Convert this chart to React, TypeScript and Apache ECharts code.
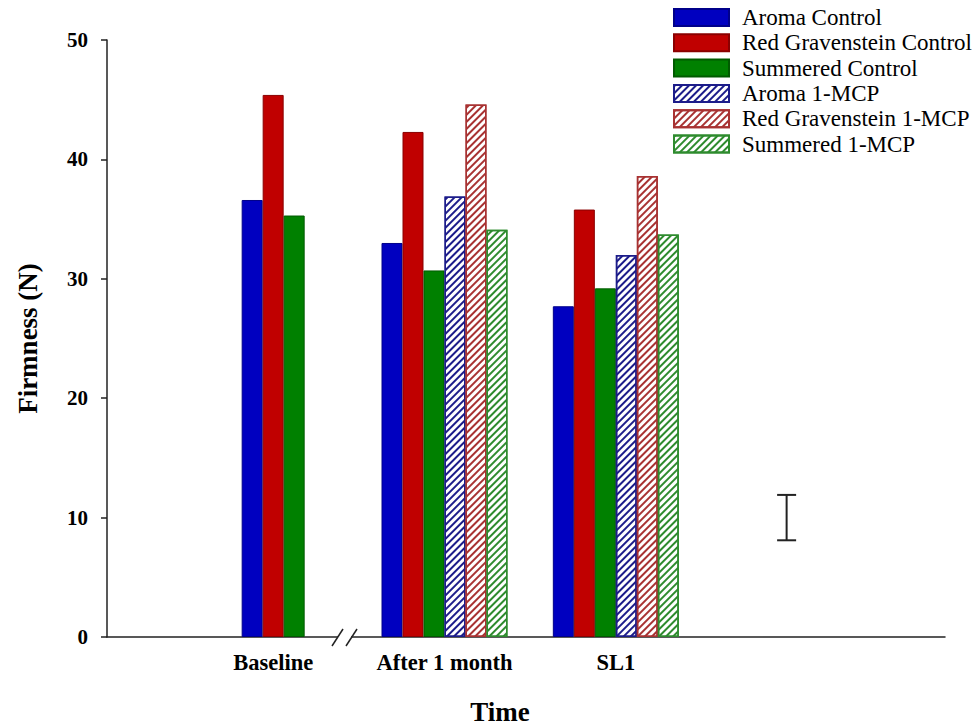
import React, { useEffect, useRef } from "react";
import * as echarts from "echarts";

const categories = ["Baseline", "After 1 month", "SL1"];
const aromaControl = [36.6, 33.0, 27.7];
const redControl = [45.4, 42.3, 35.8];
const summeredControl = [35.3, 30.7, 29.2];
const aroma1MCP: (number | null)[] = [null, 36.9, 32.0];
const red1MCP: (number | null)[] = [null, 44.6, 38.6];
const summered1MCP: (number | null)[] = [null, 34.1, 33.7];
const yTicks = [0, 10, 20, 30, 40, 50];
// LSD error bar: [x position on hidden 0-100 axis, low, high]
const lsdBar = [[81.1, 8.1, 11.9]];

const FONT = "'Liberation Serif', 'Times New Roman', serif";

const solid = (fill: string, border: string) => ({
  color: fill,
  borderColor: border,
  borderWidth: 1,
});
const hatched = (c: string) => ({
  color: "#ffffff",
  borderColor: c,
  borderWidth: 1.5,
  decal: {
    symbol: "rect",
    symbolSize: 1,
    dashArrayX: [[1, 0]],
    dashArrayY: [1.4, 2.4],
    rotation: -Math.PI / 4,
    color: c,
    backgroundColor: "#ffffff",
  },
});

export default function App() {
  const ref = useRef<HTMLDivElement>(null);
  useEffect(() => {
    if (!ref.current) return;
    const chart = echarts.init(ref.current, undefined, { renderer: "svg" });
    const baseOnly = (a: (number | null)[]) => a.map((v, i) => (i === 0 ? v : null));
    const later = (a: (number | null)[]) => a.map((v, i) => (i === 0 ? null : v));
    const barCommon = { barWidth: 21, barGap: "0%", xAxisIndex: 1, yAxisIndex: 1 };
    const names = [
      "Aroma Control",
      "Red Gravenstein Control",
      "Summered Control",
      "Aroma 1-MCP",
      "Red Gravenstein 1-MCP",
      "Summered 1-MCP",
    ];
    const styles = [
      solid("#0000c0", "#00008a"),
      solid("#c00000", "#8a0000"),
      solid("#008000", "#005a00"),
      hatched("#1c1c8a"),
      hatched("#a83232"),
      hatched("#2e8b2e"),
    ];
    const option: any = {
      animation: false,
      backgroundColor: "#ffffff",
      textStyle: { fontFamily: FONT },
      legend: {
        data: names,
        orient: "vertical",
        left: 673,
        top: 6,
        padding: 0,
        itemWidth: 55,
        itemHeight: 17,
        itemGap: 2.3,
        icon: "rect",
        textStyle: { fontFamily: FONT, fontSize: 23, color: "#000", padding: [0, 0, 0, 8] },
        selectedMode: false,
      },
      grid: [
        { left: 107, right: 35, top: 40, bottom: 90 },
        { left: 187.5, right: 278.5, top: 40, bottom: 90 },
      ],
      xAxis: [
        {
          type: "value",
          gridIndex: 0,
          min: 0,
          max: 100,
          axisLine: { show: true, lineStyle: { color: "#222", width: 1.5 } },
          axisTick: { show: false },
          axisLabel: { show: false },
          splitLine: { show: false },
        },
        {
          type: "category",
          gridIndex: 1,
          data: categories,
          axisLine: { show: false },
          axisTick: { show: false },
          axisLabel: {
            interval: 0,
            hideOverlap: false,
            fontFamily: FONT,
            fontSize: 22.5,
            fontWeight: "bold",
            color: "#000",
            margin: 14,
          },
        },
        {
          type: "category",
          gridIndex: 1,
          data: categories,
          show: false,
        },
      ],
      yAxis: [
        {
          type: "value",
          gridIndex: 0,
          min: 0,
          max: 50,
          interval: 10,
          name: "Firmness (N)",
          nameLocation: "middle",
          nameGap: 66,
          nameTextStyle: { fontFamily: FONT, fontSize: 27, fontWeight: "bold", color: "#000" },
          axisLine: { show: true, lineStyle: { color: "#222", width: 1.5 } },
          axisTick: { show: true, inside: false, length: 6, lineStyle: { color: "#222", width: 1.5 } },
          axisLabel: {
            fontFamily: FONT,
            fontSize: 21,
            fontWeight: "bold",
            color: "#000",
            margin: 19,
            formatter: (v: number) => (yTicks.includes(v) ? String(v) : ""),
          },
          splitLine: { show: false },
        },
        {
          type: "value",
          gridIndex: 1,
          min: 0,
          max: 50,
          show: false,
        },
      ],
      graphic: [
        { type: "rect", z: 100, shape: { x: 338, y: 632, width: 13, height: 10 }, style: { fill: "#fff" } },
        { type: "line", z: 101, shape: { x1: 332, y1: 646, x2: 343, y2: 629 }, style: { stroke: "#222", lineWidth: 1.5 } },
        { type: "line", z: 101, shape: { x1: 346, y1: 646, x2: 357, y2: 629 }, style: { stroke: "#222", lineWidth: 1.5 } },
        {
          type: "text",
          z: 100,
          x: 500,
          y: 712,
          style: { text: "Time", font: `bold 27px ${FONT}`, fill: "#000", textAlign: "center", textVerticalAlign: "middle" },
        },
      ],
      series: [
        // Baseline group (controls only)
        ...[0, 1, 2].map((k) => ({
          type: "bar",
          name: names[k],
          ...barCommon,
          xAxisIndex: 2,
          data: baseOnly([aromaControl, redControl, summeredControl][k]),
          itemStyle: styles[k],
        })),
        // Later groups (controls and 1-MCP)
        ...[aromaControl, redControl, summeredControl, aroma1MCP, red1MCP, summered1MCP].map((arr, k) => ({
          type: "bar",
          name: names[k],
          ...barCommon,
          data: later(arr),
          itemStyle: styles[k],
        })),
        {
          type: "custom",
          name: "LSD",
          xAxisIndex: 0,
          yAxisIndex: 0,
          data: lsdBar,
          clip: false,
          renderItem: (params: any, api: any) => {
            const x = api.value(0);
            const lo = api.coord([x, api.value(1)]);
            const hi = api.coord([x, api.value(2)]);
            const w = 9.5;
            const st = { stroke: "#222", lineWidth: 2 };
            return {
              type: "group",
              children: [
                { type: "line", shape: { x1: lo[0], y1: lo[1], x2: hi[0], y2: hi[1] }, style: st },
                { type: "line", shape: { x1: lo[0] - w, y1: lo[1], x2: lo[0] + w, y2: lo[1] }, style: st },
                { type: "line", shape: { x1: hi[0] - w, y1: hi[1], x2: hi[0] + w, y2: hi[1] }, style: st },
              ],
            };
          },
        },
      ],
    };
    chart.setOption(option);
    return () => chart.dispose();
  }, []);
  return <div ref={ref} style={{ position: "fixed", left: 0, top: 0, width: 980, height: 727 }} />;
}
